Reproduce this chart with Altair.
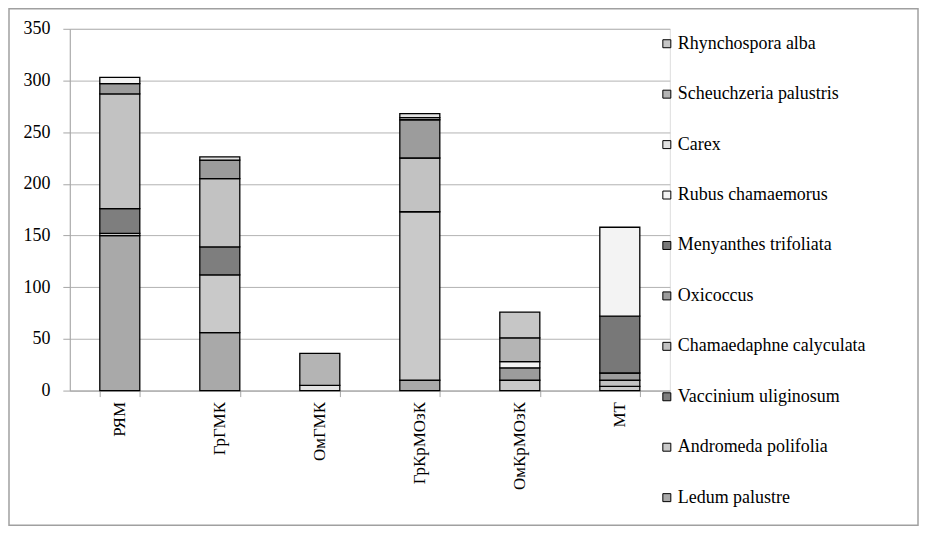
import altair as alt
import pandas as pd

sites = ["РЯМ", "ГрГМК", "ОмГМК", "ГрКрМОзК", "ОмКрМОзК", "МТ"]

species = [
    "Ledum palustre",
    "Andromeda polifolia",
    "Vaccinium uliginosum",
    "Chamaedaphne calyculata",
    "Oxicoccus",
    "Menyanthes trifoliata",
    "Rubus chamaemorus",
    "Carex",
    "Scheuchzeria palustris",
    "Rhynchospora alba",
]

ledum = [150, 56, 0, 10, 0, 0]
andromeda = [2, 56, 0, 163, 10, 4]
vaccinium = [24, 27, 0, 0, 0, 0]
chamaedaphne = [111, 66, 0, 52, 0, 6]
oxicoccus = [10, 18, 0, 37, 12, 7]
menyanthes = [0, 0, 0, 0, 0, 55]
rubus = [6, 0, 0, 2, 6, 86]
carex = [0, 3, 5, 4, 0, 0]
scheuchzeria = [0, 0, 31, 0, 23, 0]
rhynchospora = [0, 0, 0, 0, 25, 0]

series = [ledum, andromeda, vaccinium, chamaedaphne, oxicoccus,
          menyanthes, rubus, carex, scheuchzeria, rhynchospora]

fills = ["#a9a9a9", "#c9c9c9", "#7e7e7e", "#c2c2c2", "#9c9c9c",
         "#787878", "#f3f3f3", "#e2e2e2", "#b4b4b4", "#c6c6c6"]

rows = []
for i, (sp, vals) in enumerate(zip(species, series)):
    for s, v in zip(sites, vals):
        if v > 0:
            rows.append({"site": s, "species": sp, "value": v, "idx": i})
df = pd.DataFrame(rows)

FONT = "Liberation Serif"
W, H = 602, 363

bars = alt.Chart(df).mark_bar(stroke="black", strokeWidth=1.3).encode(
    x=alt.X("site:N", sort=sites, title=None,
            scale=alt.Scale(paddingInner=0.6, paddingOuter=0.3),
            axis=alt.Axis(labelAngle=-90, labelFont=FONT, labelFontSize=17,
                          labelColor="black", tickBand="extent", tickSize=6,
                          tickColor="#a6a6a6", domainColor="#a6a6a6",
                          labelPadding=5, grid=False)),
    y=alt.Y("value:Q", stack="zero", title=None,
            scale=alt.Scale(domain=[0, 350], nice=False),
            axis=alt.Axis(values=[0, 50, 100, 150, 200, 250, 300, 350],
                          labelFont=FONT, labelFontSize=18, labelColor="black",
                          tickSize=7, tickColor="#a6a6a6", domainColor="#a6a6a6",
                          gridColor="#b3b3b3", labelPadding=13)),
    color=alt.Color("species:N",
                    scale=alt.Scale(domain=species[::-1], range=fills[::-1]),
                    legend=alt.Legend(title=None, orient="none", legendX=590,
                                      legendY=6, symbolType="square",
                                      symbolSize=64, symbolStrokeColor="black",
                                      symbolStrokeWidth=1, labelFont=FONT,
                                      labelFontSize=18, labelColor="black",
                                      rowPadding=32.6, labelOffset=2,
                                      labelLimit=300, padding=0)),
    order=alt.Order("idx:Q", sort="ascending"),
)

frame = alt.Chart(alt.Data(values=[{}])).mark_rect(
    fill=None, stroke="#a0a0a0", strokeWidth=1.5
).encode(
    x=alt.value(-61), x2=alt.value(851),
    y=alt.value(-20), y2=alt.value(498),
)

chart = alt.layer(frame, bars).properties(
    width=W, height=H,
    autosize=alt.AutoSizeParams(type="none"),
    padding={"left": 62, "top": 20, "right": 250, "bottom": 135},
).configure_view(stroke=None).configure(background="white")

chart.save("out.html", embed_options={"renderer": "svg", "actions": False})
